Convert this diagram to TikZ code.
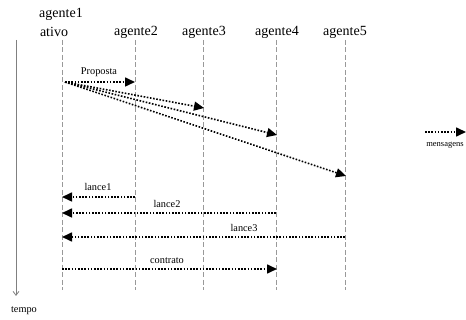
\documentclass[tikz,border=0pt]{standalone}
\usepackage{fontspec}
\setmainfont{Liberation Serif}
\usetikzlibrary{arrows.meta}
\begin{document}
\begin{tikzpicture}[x=1pt,y=-1pt,
  big/.style={font=\fontsize{14}{16}\selectfont, inner sep=0pt},
  small/.style={font=\fontsize{10.3}{12}\selectfont, inner sep=0pt},
  tiny/.style={font=\fontsize{8.5}{10}\selectfont, inner sep=0pt},
  lifeline/.style={draw=gray!80, dashed, dash pattern=on 5pt off 2.5pt, line width=0.8pt},
  msg/.style={line width=1.6pt, dash pattern=on 1.6pt off 1.6pt, -{Triangle[length=10pt,width=9pt]}},
  timeax/.style={draw=gray, line width=0.8pt, -{Straight Barb[length=4pt,width=6pt]}}]
\useasboundingbox (0,0) rectangle (466,320);
% headers
\node[big] (h1a) at (61,14) {agente1};
\node[big] (h1b) at (54,32) {ativo};
\node[big] (h2) at (136,32) {agente2};
\node[big] (h3) at (204,32) {agente3};
\node[big] (h4) at (277,32) {agente4};
\node[big] (h5) at (345,32) {agente5};
% lifelines
\foreach \n/\x in {1/62,2/135,3/203,4/276,5/345}{
  \coordinate (t\n) at (\x,40);
  \coordinate (b\n) at (\x,290);
  \draw[lifeline] (t\n) -- (b\n);
}
% time axis
\coordinate (tt) at (16,40);
\coordinate (tb) at (16,296);
\draw[timeax] (tt) -- (tb);
\node[small] (tempo) at (24,311) {tempo};
% proposals
\coordinate (s) at (65,82);
\coordinate (p2) at (135,82);
\coordinate (p3) at (204,108);
\coordinate (p4) at (277,135);
\coordinate (p5) at (346,176);
\draw[msg] (s) -- (p2);
\draw[msg] (s) -- (p3);
\draw[msg] (s) -- (p4);
\draw[msg] (s) -- (p5);
\node[small] (prop) at (99,72) {Proposta};
% bids
\coordinate (l1s) at (135,197); \coordinate (l1e) at (62,197);
\coordinate (l2s) at (276,213); \coordinate (l2e) at (62,213);
\coordinate (l3s) at (345,237); \coordinate (l3e) at (62,237);
\draw[msg] (l1s) -- (l1e);
\draw[msg] (l2s) -- (l2e);
\draw[msg] (l3s) -- (l3e);
\node[small] (lance1) at (98,187) {lance1};
\node[small] (lance2) at (167,204) {lance2};
\node[small] (lance3) at (244,228) {lance3};
% contract
\coordinate (cs) at (62,269); \coordinate (ce) at (277,269);
\draw[msg] (cs) -- (ce);
\node[small] (contrato) at (167,261) {contrato};
% legend
\coordinate (ls) at (425,132); \coordinate (le) at (466,132);
\draw[msg] (ls) -- (le);
\node[tiny] (mens) at (445,145) {mensagens};
\end{tikzpicture}
\end{document}
